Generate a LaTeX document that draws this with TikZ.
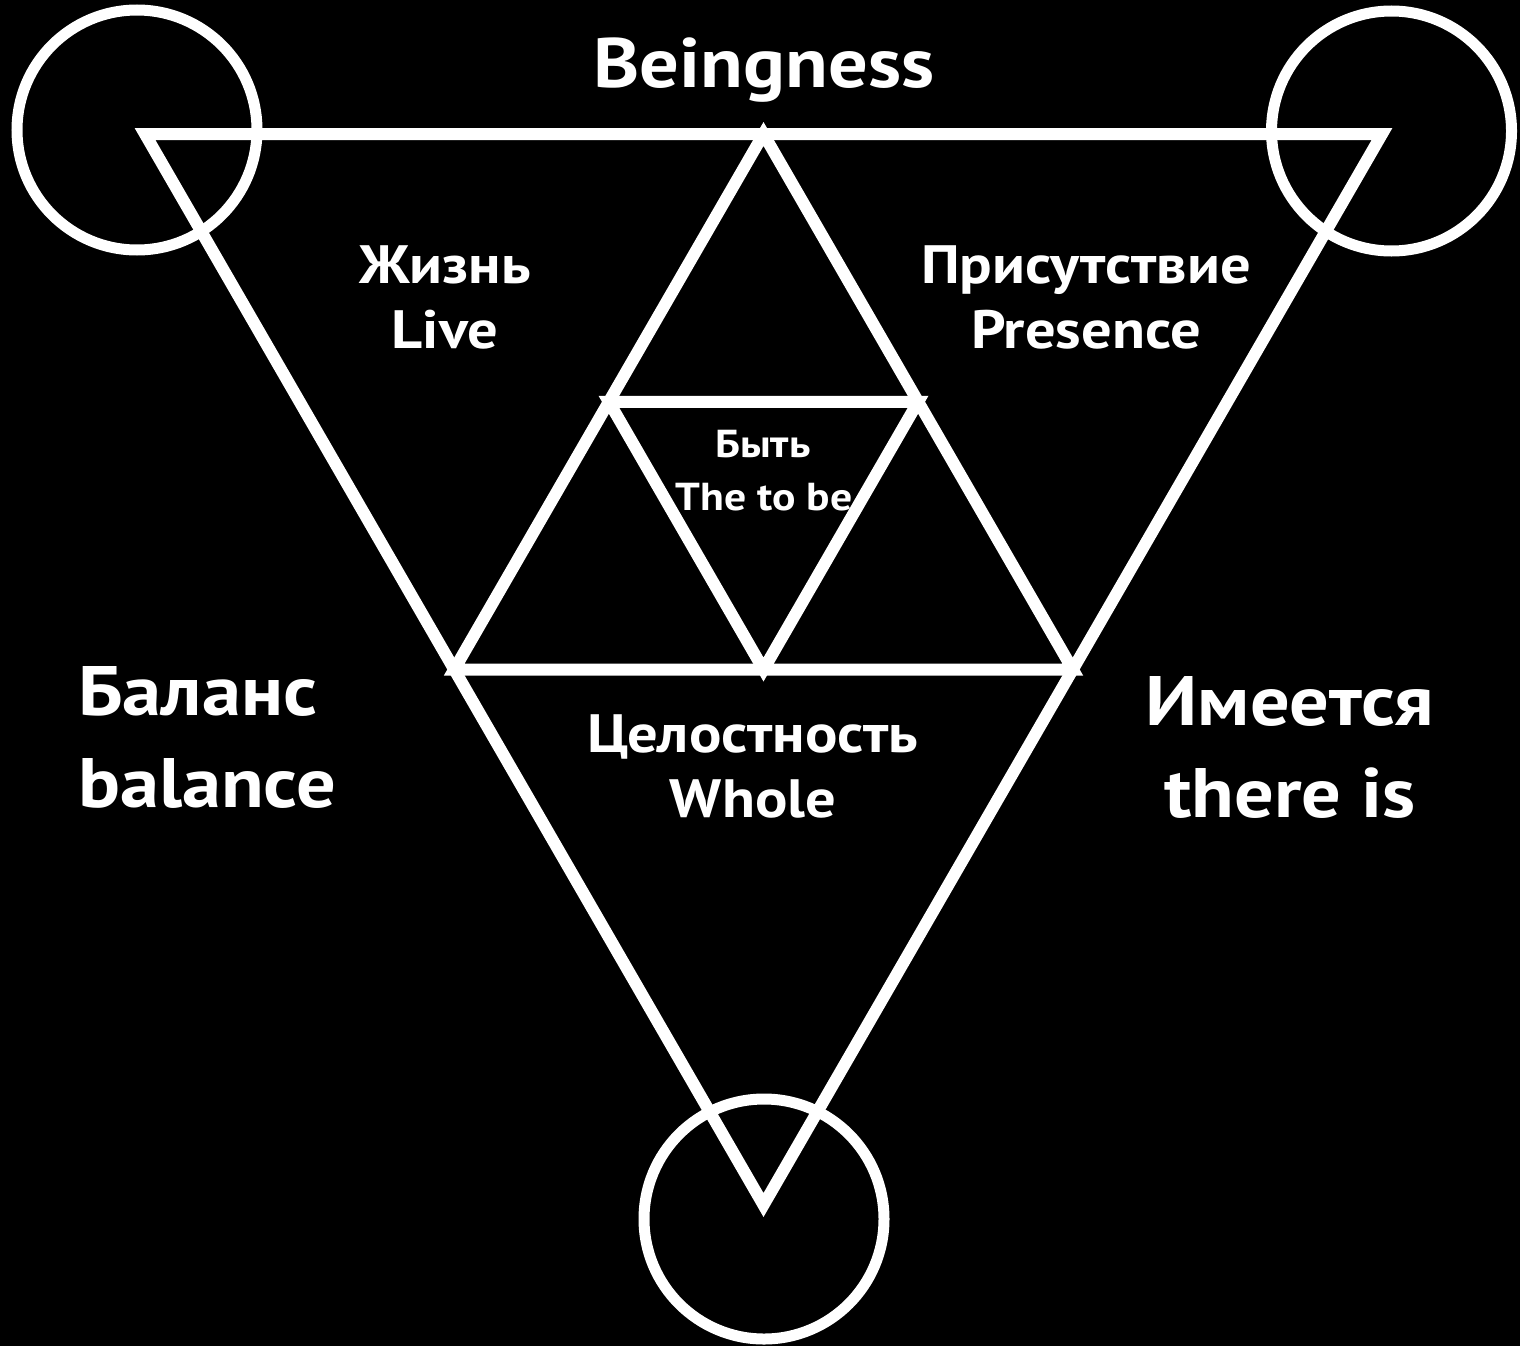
\documentclass[tikz,border=0pt]{standalone}
\usepackage{fontspec}
\setmainfont{PT Sans}[BoldFeatures={FakeStretch=1.12}]
\begin{document}
\begin{tikzpicture}[x=1pt,y=-1pt,
  wline/.style={draw=white,line width=12pt,line join=miter},
  ring/.style={draw=white,line width=11pt},
  lbl/.style={text=white,font=\bfseries,anchor=base,inner sep=0pt,align=center},
  big/.style={lbl,font=\bfseries\fontsize{70}{92}\selectfont},
  mid/.style={lbl,font=\bfseries\fontsize{54}{65}\selectfont},
  small/.style={lbl,font=\bfseries\fontsize{39}{53}\selectfont}]
\fill[black] (0,0) rectangle (1520,1346);
\useasboundingbox (0,0) rectangle (1520,1346);
% outer triangle
\coordinate (A) at (145,134);
\coordinate (B) at (1382,134);
\coordinate (C) at (763.5,1205);
% medial triangle
\coordinate (M1) at (763.5,134);
\coordinate (M2) at (454.25,669.5);
\coordinate (M3) at (1072.75,669.5);
% innermost
\coordinate (I1) at (608.9,401.75);
\coordinate (I2) at (918.1,401.75);
\coordinate (I3) at (763.5,669.5);
\draw[wline] (A) -- (B) -- (C) -- cycle;
\draw[wline] (M1) -- (M3) -- (M2) -- cycle;
\draw[wline] (I1) -- (I2) -- (I3) -- cycle;
% circles
\node[ring,circle,minimum size=240pt,inner sep=0pt] (cA) at (137,130) {};
\node[ring,circle,minimum size=240pt,inner sep=0pt] (cB) at (1391.5,131) {};
\node[ring,circle,minimum size=240pt,inner sep=0pt] (cC) at (764,1219) {};
% labels
\node[big] (being) at (764,88) {Beingness};
\node[mid] (zhizn) at (445,283) {Жизнь};
\node[mid] (live) at (445,348) {Live};
\node[mid] (pris) at (1086,283) {Присутствие};
\node[mid] (pres) at (1086,348) {Presence};
\node[small] (byt) at (763,457) {Быть};
\node[small] (tobe) at (764,510) {The to be};
\node[mid] (cel) at (753,752) {Целостность};
\node[mid] (whole) at (753,817) {Whole};
\node[big,anchor=base west] (bal) at (78,715) {Баланс};
\node[big,anchor=base west] (bal2) at (78,807) {balance};
\node[big] (ime) at (1290,725) {Имеется};
\node[big] (there) at (1290,817) {there is};
\end{tikzpicture}
\end{document}
